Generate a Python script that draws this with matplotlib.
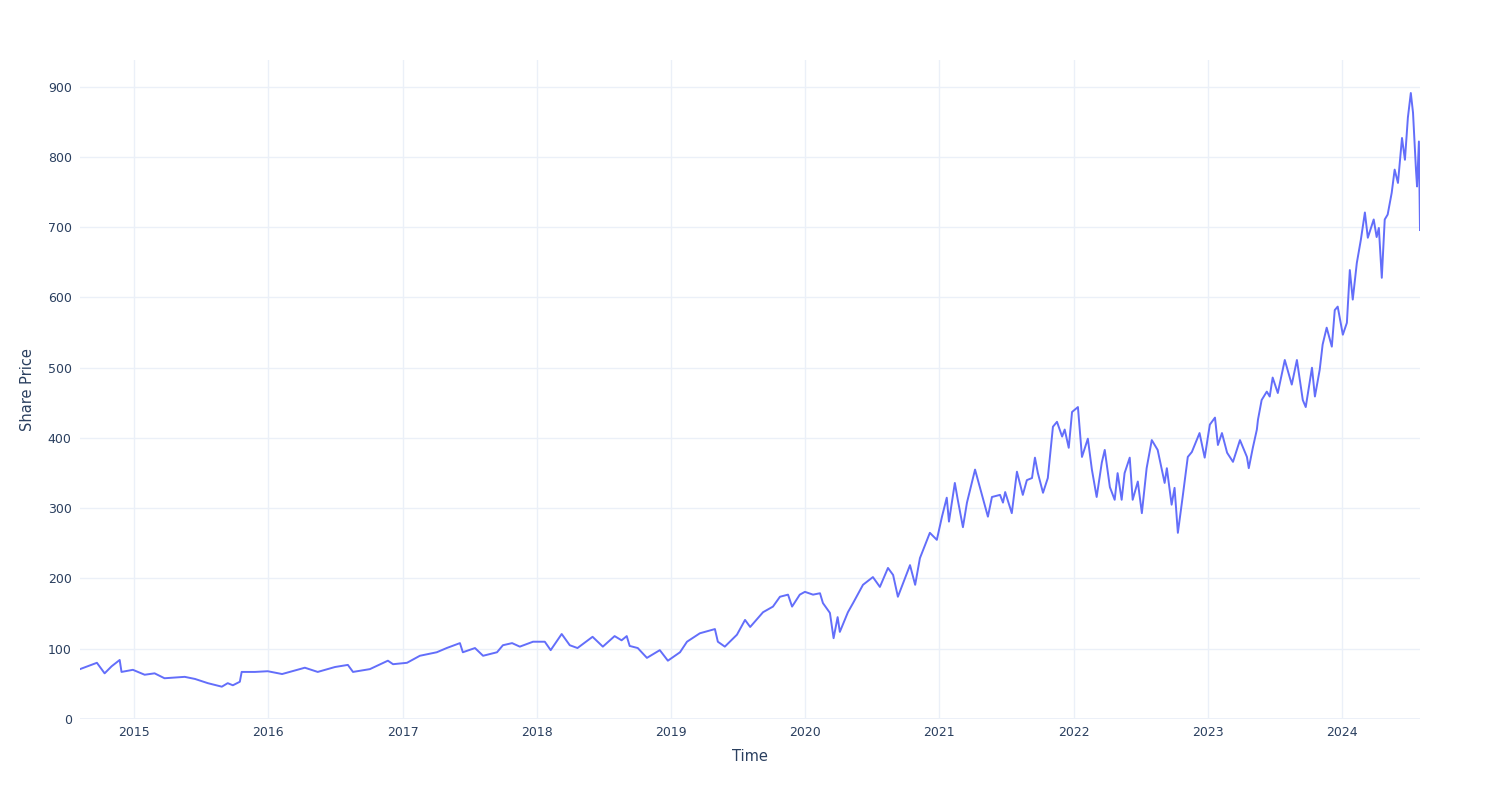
import pandas as pd
import matplotlib
matplotlib.use("Agg")
import matplotlib.pyplot as plt
import matplotlib.dates as mdates

# values
dates = [
    "2014-08-07", "2014-09-22", "2014-10-13", "2014-11-01", "2014-11-23", "2014-11-28", "2014-12-29",
    "2015-01-30", "2015-02-26", "2015-03-25", "2015-05-19", "2015-06-16", "2015-07-21", "2015-08-28",
    "2015-09-13", "2015-09-27", "2015-10-16", "2015-10-21", "2015-11-26", "2015-12-31",
    "2016-02-08", "2016-04-10", "2016-05-15", "2016-07-01", "2016-08-05", "2016-08-19", "2016-10-04",
    "2016-11-22", "2016-12-06",
    "2017-01-13", "2017-02-17", "2017-04-04", "2017-05-01", "2017-06-06", "2017-06-14", "2017-07-17",
    "2017-08-08", "2017-09-15", "2017-10-01", "2017-10-26", "2017-11-16", "2017-12-22",
    "2018-01-23", "2018-02-08", "2018-03-10", "2018-04-01", "2018-04-22", "2018-06-02", "2018-06-30",
    "2018-08-01", "2018-08-20", "2018-09-03", "2018-09-11", "2018-10-03", "2018-10-28", "2018-12-02",
    "2018-12-24",
    "2019-01-26", "2019-02-14", "2019-03-21", "2019-05-01", "2019-05-09", "2019-05-28", "2019-06-30",
    "2019-07-22", "2019-08-05", "2019-09-09", "2019-10-06", "2019-10-25", "2019-11-16", "2019-11-27",
    "2019-12-18",
    "2020-01-01", "2020-01-23", "2020-02-11", "2020-02-19", "2020-03-09", "2020-03-19", "2020-03-30",
    "2020-04-05", "2020-04-27", "2020-05-11", "2020-06-07", "2020-07-04", "2020-07-23", "2020-08-14",
    "2020-08-28", "2020-09-10", "2020-10-13", "2020-10-27", "2020-11-09", "2020-12-06", "2020-12-25",
    "2021-01-08", "2021-01-21", "2021-01-27", "2021-02-12", "2021-02-20", "2021-03-06", "2021-03-17",
    "2021-04-08", "2021-04-21", "2021-05-13", "2021-05-24", "2021-06-15", "2021-06-23", "2021-06-29",
    "2021-07-17", "2021-07-31", "2021-08-16", "2021-08-27", "2021-09-10", "2021-09-18", "2021-09-26",
    "2021-10-10", "2021-10-23", "2021-11-06", "2021-11-17", "2021-12-01", "2021-12-08", "2021-12-19",
    "2021-12-28",
    "2022-01-13", "2022-01-18", "2022-01-24", "2022-02-09", "2022-02-20", "2022-03-05", "2022-03-19",
    "2022-03-27", "2022-04-10", "2022-04-23", "2022-05-01", "2022-05-12", "2022-05-20", "2022-06-03",
    "2022-06-11", "2022-06-25", "2022-07-06", "2022-07-19", "2022-08-02", "2022-08-18", "2022-09-06",
    "2022-09-12", "2022-09-25", "2022-10-03", "2022-10-12", "2022-10-25", "2022-11-08", "2022-11-19",
    "2022-12-10", "2022-12-24",
    "2023-01-07", "2023-01-21", "2023-01-29", "2023-02-09", "2023-02-23", "2023-03-11", "2023-03-30",
    "2023-04-18", "2023-04-23", "2023-05-04", "2023-05-15", "2023-05-18", "2023-05-28", "2023-06-11",
    "2023-06-19", "2023-06-27", "2023-07-11", "2023-07-30", "2023-08-18", "2023-09-01", "2023-09-17",
    "2023-09-25", "2023-10-12", "2023-10-20", "2023-11-02", "2023-11-10", "2023-11-21", "2023-12-05",
    "2023-12-13", "2023-12-21",
    "2024-01-04", "2024-01-15", "2024-01-23", "2024-01-31", "2024-02-11", "2024-02-22", "2024-03-04",
    "2024-03-12", "2024-03-28", "2024-04-05", "2024-04-11", "2024-04-19", "2024-04-27", "2024-05-05",
    "2024-05-16", "2024-05-24", "2024-06-02", "2024-06-13", "2024-06-21", "2024-06-29", "2024-07-07",
    "2024-07-13", "2024-07-21", "2024-07-24", "2024-07-29", "2024-08-01",
]
prices = [
    71, 80, 65, 75, 84, 67, 70,
    63, 65, 58, 60, 57, 51, 46,
    51, 48, 53, 67, 67, 68,
    64, 73, 67, 74, 77, 67, 71,
    83, 78,
    80, 90, 95, 101, 108, 95, 101,
    90, 95, 105, 108, 103, 110,
    110, 98, 121, 105, 101, 117, 103,
    118, 112, 118, 104, 101, 87, 98,
    83,
    95, 110, 122, 128, 110, 103, 120,
    141, 131, 152, 160, 174, 177, 160,
    177,
    181, 177, 179, 165, 151, 115, 145,
    124, 152, 165, 191, 202, 188, 215,
    205, 174, 219, 191, 229, 265, 255,
    288, 315, 281, 336, 312, 273, 308,
    355, 330, 288, 316, 319, 308, 323,
    293, 352, 319, 340, 343, 372, 350,
    322, 343, 416, 423, 402, 412, 386,
    437,
    444, 412, 373, 399, 355, 316, 365,
    383, 330, 312, 350, 312, 350, 372,
    312, 338, 293, 357, 397, 383, 336,
    357, 305, 329, 265, 316, 373, 380,
    407, 372,
    419, 429, 390, 407, 379, 366, 397,
    373, 357, 386, 412, 426, 454, 466,
    459, 486, 464, 511, 476, 511, 454,
    444, 500, 459, 497, 533, 557, 530,
    582, 587,
    547, 564, 639, 597, 649, 682, 721,
    685, 711, 686, 699, 628, 711, 718,
    749, 782, 763, 827, 796, 856, 891,
    863, 782, 758, 822, 696,
]

df = pd.DataFrame({"Time": pd.to_datetime(dates), "Share Price": prices})

text_color = "#2a3f5f"
grid_color = "#ebf0f8"

fig = plt.figure(figsize=(15, 8), dpi=100)
ax = fig.add_axes([80 / 1500, 81 / 800, 1340 / 1500, 659 / 800])

ax.plot(df["Time"], df["Share Price"], color="#636efa", linewidth=1.4)

ax.set_xlim(df["Time"].iloc[0], df["Time"].iloc[-1])
ax.set_ylim(0, 938)
ax.set_yticks(range(0, 1000, 100))
ax.xaxis.set_major_locator(mdates.YearLocator())
ax.xaxis.set_major_formatter(mdates.DateFormatter("%Y"))

ax.grid(True, color=grid_color, linewidth=1)
ax.set_axisbelow(True)
ax.axhline(0, color=grid_color, linewidth=2, zorder=0)
for s in ax.spines.values():
    s.set_visible(False)
ax.tick_params(length=0, labelsize=9, labelcolor=text_color)
ax.tick_params(axis="x", pad=5)
ax.tick_params(axis="y", pad=6)

ax.set_xlabel("Time", fontsize=10.5, color=text_color, labelpad=7)
ax.set_ylabel("Share Price", fontsize=10.5, color=text_color, labelpad=9)

fig.savefig("out.png", dpi=100)
